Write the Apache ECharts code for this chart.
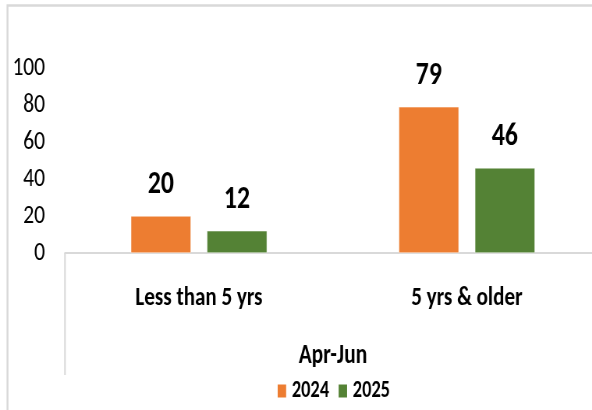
<!DOCTYPE html>
<html>
<head>
<meta charset="utf-8">
<style>
  html, body { margin: 0; padding: 0; background: #fff; overflow: hidden; }
  #chart { width: 854px; height: 410px; transform: scaleX(0.78); transform-origin: 0 0; }
</style>
<script src="https://cdn.jsdelivr.net/npm/echarts@6/dist/echarts.min.js"></script>
</head>
<body>
<div id="chart"></div>
<script>
const categories = ['Less than 5 yrs', '5 yrs & older'];
const seriesNames = ['2024', '2025'];
const values2024 = [20, 79];
const values2025 = [12, 46];
const axisTitle = 'Apr-Jun';

const FONT = "Carlito, 'Liberation Sans', sans-serif";
const ORANGE = '#ED7D31';
const GREEN = '#548235';
const LINE = '#d9d9d9';

const chart = echarts.init(document.getElementById('chart'), null, { renderer: 'canvas' });

const labelStyle = {
  show: true,
  position: 'top',
  distance: 14.5,
  fontFamily: FONT,
  fontSize: 33,
  fontWeight: 'bold',
  color: '#000'
};

chart.setOption({
  animation: false,
  backgroundColor: '#fff',
  textStyle: { fontFamily: FONT },
  grid: { left: 83.3, width: 687, top: 68, height: 185, containLabel: false, outerBoundsMode: 'none' },
  legend: {
    data: seriesNames,
    left: 'center',
    top: 374,
    icon: 'rect',
    itemWidth: 12.8,
    itemHeight: 15,
    itemGap: 10.3,
    textStyle: { fontFamily: FONT, fontSize: 23.5, fontWeight: 'bold', color: '#000', padding: [0, 0, 0, 1.4] }
  },
  xAxis: {
    type: 'category',
    data: categories,
    axisLine: { show: true, lineStyle: { color: LINE, width: 2 } },
    axisTick: { show: false },
    splitLine: { show: false },
    axisLabel: {
      show: true,
      margin: 32,
      fontFamily: FONT,
      fontSize: 27,
      fontWeight: 'bold',
      color: '#000'
    },
    name: axisTitle,
    nameLocation: 'middle',
    nameGap: 89,
    nameTextStyle: { fontFamily: FONT, fontSize: 27.5, fontWeight: 'bold', color: '#000' }
  },
  yAxis: {
    type: 'value',
    min: 0,
    max: 100,
    interval: 20,
    axisLine: { show: false },
    axisTick: { show: false },
    splitLine: { show: false },
    axisLabel: { margin: 25.6, fontFamily: FONT, fontSize: 27.5, color: '#000' }
  },
  series: [
    {
      name: seriesNames[0],
      type: 'bar',
      data: values2024,
      barWidth: 77,
      barGap: '26.7%',
      itemStyle: { color: ORANGE, borderColor: '#fff', borderWidth: 0.5 },
      label: labelStyle
    },
    {
      name: seriesNames[1],
      type: 'bar',
      data: values2025,
      barWidth: 77,
      barGap: '26.7%',
      itemStyle: { color: GREEN, borderColor: '#fff', borderWidth: 0.5 },
      label: labelStyle
    }
  ],
  graphic: [
    {
      type: 'polyline',
      silent: true,
      shape: { points: [[9.6, 410], [9.6, 5.5], [854, 5.5]] },
      style: { stroke: LINE, lineWidth: 2.4, fill: null }
    },
    {
      type: 'line',
      silent: true,
      shape: { x1: 83.3, y1: 253, x2: 83.3, y2: 375 },
      style: { stroke: LINE, lineWidth: 2 }
    }
  ]
});
</script>
</body>
</html>
